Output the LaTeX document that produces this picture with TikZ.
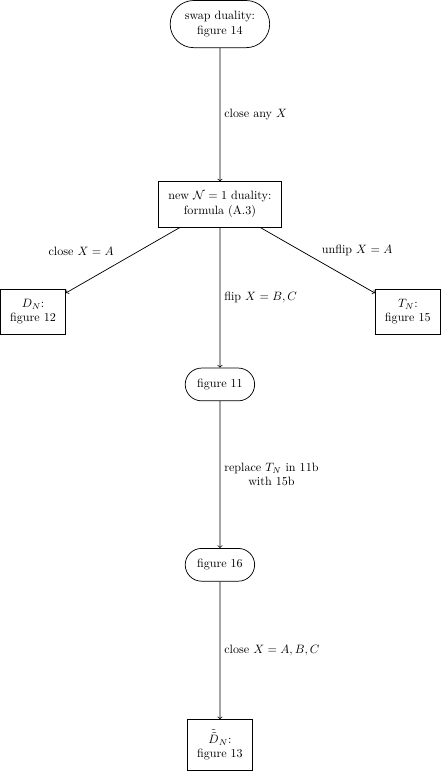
\documentclass[tikz,border=0pt]{standalone}
\usetikzlibrary{shapes.misc}
\tikzset{
  stepbox/.style={
    draw=black,
    rectangle,
    align=center,
    inner sep=8pt
  },
  termbox/.style={
    draw=black,
    rounded rectangle,
    align=center,
    inner xsep=9pt,
    inner ysep=9pt
  },
  flow/.style={->},
  lbl/.style={align=center}
}

\begin{document}
\begin{tikzpicture}[semithick]
  \useasboundingbox (-6.39,0.70) rectangle (6.42,-21.73);
  % Main chain
  \node[termbox] (swap) at (0,0) {swap duality:\\figure 14};
  \node[stepbox] (newdual) at (0,-5.24) {new $\mathcal{N}=1$ duality:\\formula (A.3)};
  \node[termbox] (fig11) at (0,-10.47) {figure 11};
  \node[termbox] (fig16) at (0,-15.71) {figure 16};
  \node[stepbox] (dtt) at (0,-20.94) {$\tilde{\tilde{D}}_N$:\\figure 13};
  % Side branches
  \node[stepbox] (dn) at (-5.43,-8.36) {$D_N$:\\figure 12};
  \node[stepbox] (tn) at (5.46,-8.36) {$T_N$:\\figure 15};
  % Connectors
  \draw[flow] (swap) -- node[right] {close any $X$} (newdual);
  \draw[flow] (newdual) -- node[above left, xshift=-4pt] {close $X=A$} (dn);
  \draw[flow] (newdual) -- node[above right] {unflip $X=A$} (tn);
  \draw[flow] (newdual) -- node[right] {flip $X=B,C$} (fig11);
  \draw[flow] (fig11) -- node[right, lbl] {replace $T_N$ in 11b\\with 15b} (fig16);
  \draw[flow] (fig16) -- node[right] {close $X=A,B,C$} (dtt);
\end{tikzpicture}
\end{document}
